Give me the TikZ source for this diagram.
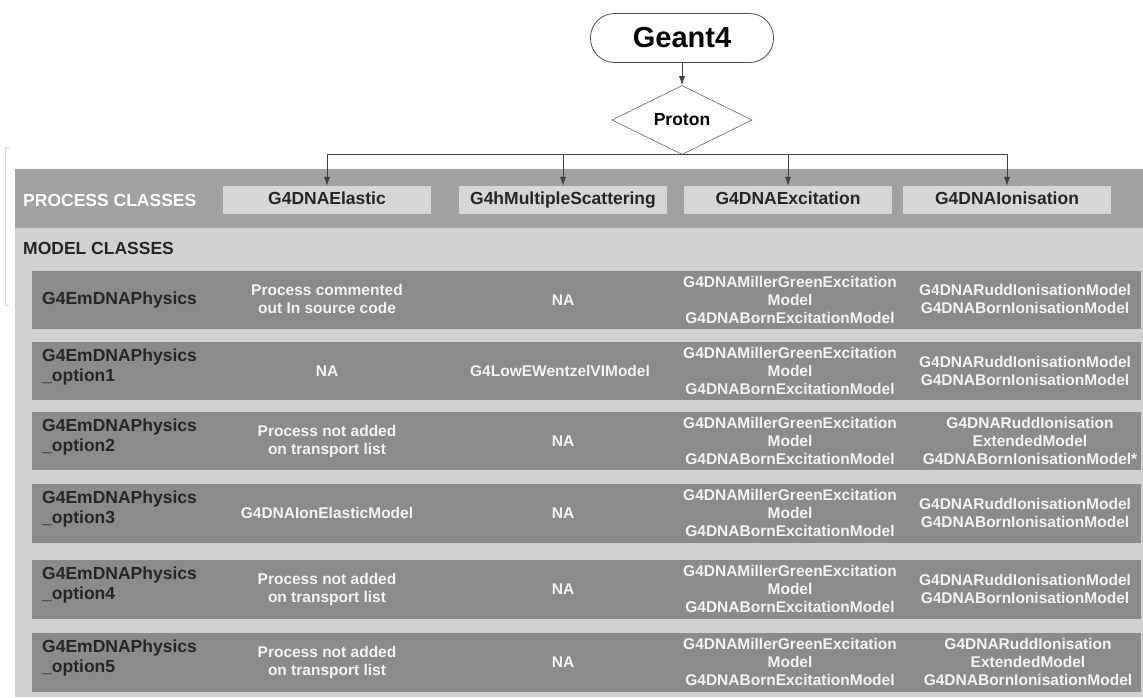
\documentclass[tikz,border=0pt]{standalone}
\usepackage{fontspec}
\setmainfont{Liberation Sans}
\usetikzlibrary{arrows.meta,shapes.geometric}

\definecolor{bandgray}{HTML}{A1A1A4}
\definecolor{areagray}{HTML}{D1D1D3}
\definecolor{rowgray}{HTML}{8B8B8E}
\definecolor{boxgray}{HTML}{D6D6D8}
\definecolor{inkdark}{HTML}{262626}
\definecolor{inklight}{HTML}{F4F4F4}

\tikzset{
  link/.style={-{Latex[length=9pt,width=6pt]}, black!75, line width=0.7pt},
  proc/.style={fill=boxgray, minimum width=208pt, minimum height=28pt, inner sep=0pt,
    text height=13pt, text depth=4pt,
    text=inkdark, font={\bfseries\fontsize{17.5}{20}\selectfont}},
  head/.style={anchor=west, inner sep=0pt, font={\bfseries\fontsize{17.5}{20}\selectfont}},
  physname/.style={anchor=west, align=left, inner sep=0pt, text=inkdark,
    font={\bfseries\fontsize{17.5}{20}\selectfont}},
  model/.style={align=center, inner sep=0pt, text=inklight,
    font={\bfseries\fontsize{15.5}{18}\selectfont}},
  rowbox/.style={fill=rowgray}
}

\begin{document}
\begin{tikzpicture}[x=1pt,y=-1pt]
  \useasboundingbox (0,0) rectangle (1143,697);

  \fill[bandgray] (15,169) rectangle (1143,228);
  \fill[areagray] (15,228) rectangle (1143,697);
  \draw[black!15, line width=0.8pt] (10,147) -- (5,147) -- (5,305) -- (10,305);

  \fill[rowbox] (32,271) rectangle (1141,329);
  \fill[rowbox] (32,342) rectangle (1141,400);
  \fill[rowbox] (32,412) rectangle (1141,470);
  \fill[rowbox] (32,484) rectangle (1141,543);
  \fill[rowbox] (32,560) rectangle (1141,619);
  \fill[rowbox] (32,633) rectangle (1141,692);

  \draw (682,38) node[draw=black!70, line width=0.8pt, rounded corners=24pt, minimum width=183pt,
    minimum height=49pt, font={\bfseries\fontsize{29}{32}\selectfont}] (geant) {Geant4};
  \draw (682,120) node[diamond, draw=black!60, line width=0.6pt, inner sep=0pt, minimum width=140pt,
    minimum height=69pt, font={\bfseries\fontsize{17.5}{20}\selectfont}] (proton) {Proton};

  \draw (23,200) node[head, text=white] (proclabel) {PROCESS CLASSES};
  \draw (327,200) node[proc] (elastic) {G4DNAElastic};
  \draw (563,200) node[proc] (msc) {G4hMultipleScattering};
  \draw (788,200) node[proc] (excit) {G4DNAExcitation};
  \draw (1007,200) node[proc] (ionis) {G4DNAIonisation};
  \draw (23,248) node[head, text=inkdark] (modellabel) {MODEL CLASSES};

  \draw[link] (geant) -- (proton);
  \draw[link] (proton.south) -| (elastic.north);
  \draw[link] (proton.south) -| (msc.north);
  \draw[link] (proton.south) -| (excit.north);
  \draw[link] (proton.south) -| (ionis.north);

  \draw (42,300) node[physname] (phys0) {G4EmDNAPhysics};
  \draw (327,299) node[model] (el0) {Process commented\\out In source code};
  \draw (563,300) node[model] (ms0) {NA};
  \draw (790,300) node[model] (ex0) {G4DNAMillerGreenExcitation\\Model\\G4DNABornExcitationModel};
  \draw (1025,299) node[model] (io0) {G4DNARuddIonisationModel\\G4DNABornIonisationModel};

  \draw (42,367) node[physname] (phys1) {G4EmDNAPhysics\\\_option1};
  \draw (327,371) node[model] (el1) {NA};
  \draw (560,371) node[model] (ms1) {G4LowEWentzelVIModel};
  \draw (790,371) node[model] (ex1) {G4DNAMillerGreenExcitation\\Model\\G4DNABornExcitationModel};
  \draw (1025,371) node[model] (io1) {G4DNARuddIonisationModel\\G4DNABornIonisationModel};

  \draw (42,437) node[physname] (phys2) {G4EmDNAPhysics\\\_option2};
  \draw (327,441) node[model] (el2) {Process not added\\on transport list};
  \draw (563,441) node[model] (ms2) {NA};
  \draw (790,441) node[model] (ex2) {G4DNAMillerGreenExcitation\\Model\\G4DNABornExcitationModel};
  \draw (1030,441) node[model] (io2) {G4DNARuddIonisation\\ExtendedModel\\G4DNABornIonisationModel*};

  \draw (42,509) node[physname] (phys3) {G4EmDNAPhysics\\\_option3};
  \draw (327,513) node[model] (el3) {G4DNAIonElasticModel};
  \draw (563,513) node[model] (ms3) {NA};
  \draw (790,513) node[model] (ex3) {G4DNAMillerGreenExcitation\\Model\\G4DNABornExcitationModel};
  \draw (1025,513) node[model] (io3) {G4DNARuddIonisationModel\\G4DNABornIonisationModel};

  \draw (42,585) node[physname] (phys4) {G4EmDNAPhysics\\\_option4};
  \draw (327,589) node[model] (el4) {Process not added\\on transport list};
  \draw (563,589) node[model] (ms4) {NA};
  \draw (790,589) node[model] (ex4) {G4DNAMillerGreenExcitation\\Model\\G4DNABornExcitationModel};
  \draw (1025,589) node[model] (io4) {G4DNARuddIonisationModel\\G4DNABornIonisationModel};

  \draw (42,658) node[physname] (phys5) {G4EmDNAPhysics\\\_option5};
  \draw (327,662) node[model] (el5) {Process not added\\on transport list};
  \draw (563,662) node[model] (ms5) {NA};
  \draw (790,662) node[model] (ex5) {G4DNAMillerGreenExcitation\\Model\\G4DNABornExcitationModel};
  \draw (1028,662) node[model] (io5) {G4DNARuddIonisation\\ExtendedModel\\G4DNABornIonisationModel};
\end{tikzpicture}
\end{document}
